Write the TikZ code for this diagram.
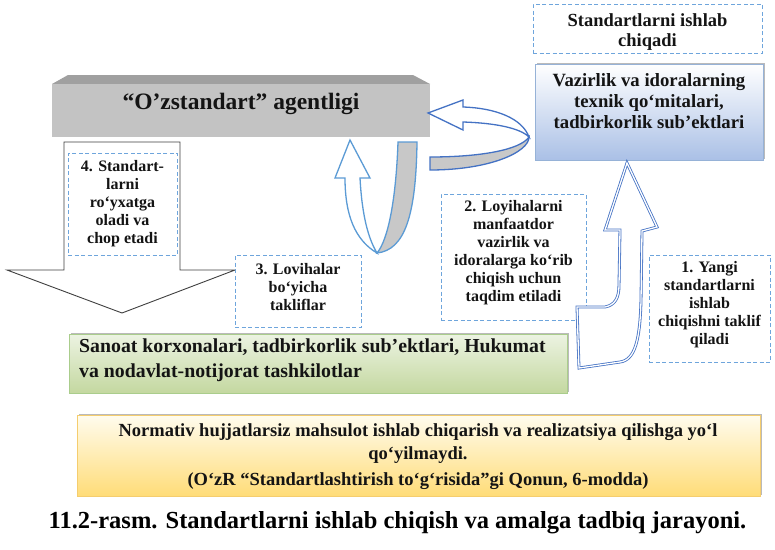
\documentclass[tikz,border=0pt]{standalone}
\usepackage{fontspec}
\setmainfont{LiberationSerif}[Extension=.ttf, UprightFont=*-Regular, BoldFont=*-Bold, ItalicFont=*-Italic, BoldItalicFont=*-BoldItalic]
\usetikzlibrary{shadows}
\definecolor{dashblue}{RGB}{110,165,220}
\definecolor{arrowblue}{RGB}{91,155,213}
\definecolor{darkblue}{RGB}{68,114,196}
\definecolor{agfront}{RGB}{195,195,195}
\definecolor{agtop}{RGB}{160,160,160}
\definecolor{ribbon}{RGB}{200,200,200}
\definecolor{vazbot}{RGB}{170,192,230}
\definecolor{vazline}{RGB}{150,178,215}
\definecolor{greentop}{RGB}{236,243,226}
\definecolor{greenbot}{RGB}{196,216,160}
\definecolor{greenline}{RGB}{170,205,140}
\definecolor{yeltop}{RGB}{255,252,238}
\definecolor{yelbot}{RGB}{255,220,120}
\definecolor{yelline}{RGB}{245,205,110}
\definecolor{txt}{RGB}{20,20,20}
\tikzset{
  dbox/.style={draw=dashblue, dash pattern=on 4pt off 2.5pt, line width=1pt, fill=white, inner sep=0pt},
  dtext/.style={align=center, inner sep=0pt, text=txt, font=\bfseries\fontsize{16}{18}\selectfont},
  boxshadow/.style={drop shadow={shadow xshift=1.5pt, shadow yshift=1.5pt, fill=black!45, opacity=0.6}},
  bigarrow/.style={draw=black!75, line width=0.9pt, fill=white, line join=miter},
  uarrow/.style={draw=arrowblue, line width=1.3pt, fill=white, line join=miter},
  uribbon/.style={draw=arrowblue, line width=1.3pt, fill=ribbon},
  harrow/.style={draw=darkblue, line width=1.3pt, fill=white, line join=miter},
  hribbon/.style={draw=darkblue, line width=1.3pt, fill=ribbon},
  dblarrow/.style={draw=darkblue, line width=0.8pt, double=white, double distance=1.3pt, fill=white, line join=miter}
}
\begin{document}
\begin{tikzpicture}[x=1pt,y=-1pt]
\useasboundingbox[fill=white] (0,0) rectangle (775,549);

% big down arrow
\draw[bigarrow] (64,142) -- (180,142) -- (180,270) -- (235,270) -- (122,313) -- (7,270) -- (64,270) -- cycle;

% agency block
\fill[agtop] (52,84) -- (68,75) -- (413,75) -- (430,84) -- cycle;
\node[fill=agfront, minimum width=378pt, minimum height=53pt, inner sep=0pt] (agency) at (241,110.5) {};
\node[inner sep=0pt, text=txt, font=\bfseries\fontsize{23.5}{25}\selectfont] (agencytext) at (241,104) {“O’zstandart” agentligi};

% top right dashed box
\node[dbox, minimum width=229pt, minimum height=49pt] (develop) at (647.5,28.5) {};
\node[dtext, font=\bfseries\fontsize{18.5}{20}\selectfont] (developtext) at (647.5,32) {Standartlarni ishlab\\chiqadi};

% ministries box
\node[boxshadow, draw=vazline, line width=0.8pt, top color=white, bottom color=vazbot, minimum width=228pt, minimum height=96pt, inner sep=0pt] (vaz) at (649,112) {};
\node[dtext, font=\bfseries\fontsize{18.7}{21}\selectfont] (vaztext) at (649,101) {Vazirlik va idoralarning\\texnik qo‘mitalari,\\tadbirkorlik sub’ektlari};

% vertical U-turn arrow (left)
\draw[uribbon] (398,142) -- (417,142) .. controls (416,215) and (405,250) .. (377,253)
  .. controls (388,240) and (396,200) .. cycle;
\draw[uarrow] (350,140) -- (370,178) -- (360,178) .. controls (362,215) and (368,238) .. (377,253)
  .. controls (355,240) and (345,215) .. (345,178) -- (335,178) -- cycle;

% horizontal U-turn arrow (right)
\draw[hribbon] (430,157) .. controls (480,157) and (520,150) .. (529,137)
  .. controls (529,152) and (490,170) .. (430,170) -- cycle;
\draw[harrow] (428,113) -- (463,100) -- (463,107) .. controls (495,108) and (522,118) .. (529,137)
  .. controls (520,128) and (495,123) .. (463,122) -- (463,130) -- cycle;

% dashed boxes
\node[dbox, minimum width=109pt, minimum height=102pt] (b4) at (122.5,204) {};
\node[dtext] (t4) at (122.5,204) {4. Standart-\\larni\\ro‘yxatga\\oladi va\\chop etadi};

\node[dbox, minimum width=126pt, minimum height=72pt] (b3) at (298,291) {};
\node[dtext] (t3) at (298,287.5) {3. Lovihalar\\bo‘yicha\\takliflar};

\node[dbox, minimum width=145pt, minimum height=126pt] (b2) at (513.5,257) {};
\node[dtext] (t2) at (513.5,253) {2. Loyihalarni\\manfaatdor\\vazirlik va\\idoralarga ko‘rib\\chiqish uchun\\taqdim etiladi};

\node[dbox, minimum width=121pt, minimum height=107pt] (b1) at (709.5,308.5) {};
\node[dtext] (t1) at (709.5,305) {1. Yangi\\standartlarni\\ishlab\\chiqishni taklif\\qiladi};

% green box
\node[boxshadow, draw=greenline, line width=0.8pt, top color=greentop, bottom color=greenbot, minimum width=498pt, minimum height=59pt, inner sep=0pt] (ind) at (318,363.5) {};
\node[anchor=west, align=left, inner sep=0pt, text=txt, font=\bfseries\fontsize{19.8}{25}\selectfont] (indtext) at (79,360.5) {Sanoat korxonalari, tadbirkorlik sub’ektlari, Hukumat\\va nodavlat-notijorat tashkilotlar};

% big up double arrow
\draw[dblarrow] (627,163) -- (657,227) -- (642,231) -- (641,300)
  .. controls (640,340) and (635,360) .. (620,362) -- (579,368) -- (577,307) -- (605,307)
  .. controls (615,305) and (619,298) .. (619,285) -- (620,230) -- (605,230) -- cycle;

% yellow box
\node[boxshadow, draw=yelline, line width=0.8pt, top color=yeltop, bottom color=yelbot, minimum width=683pt, minimum height=81pt, inner sep=0pt] (law) at (418.5,455.5) {};
\node[dtext, font=\bfseries\fontsize{18.5}{23}\selectfont] (lawtext) at (418,444) {Normativ hujjatlarsiz mahsulot ishlab chiqarish va realizatsiya qilishga yo‘l\\qo‘yilmaydi.};
\node[inner sep=0pt, text=txt, font=\bfseries\fontsize{18.5}{20}\selectfont] (lawref) at (418,481) {(O‘zR “Standartlashtirish to‘g‘risida”gi Qonun, 6-modda)};

% caption
\node[inner sep=0pt, text=black, font=\bfseries\fontsize{24.5}{27}\selectfont] (caption) at (397.5,523) {11.2-rasm. Standartlarni ishlab chiqish va amalga tadbiq jarayoni.};
\end{tikzpicture}
\end{document}
